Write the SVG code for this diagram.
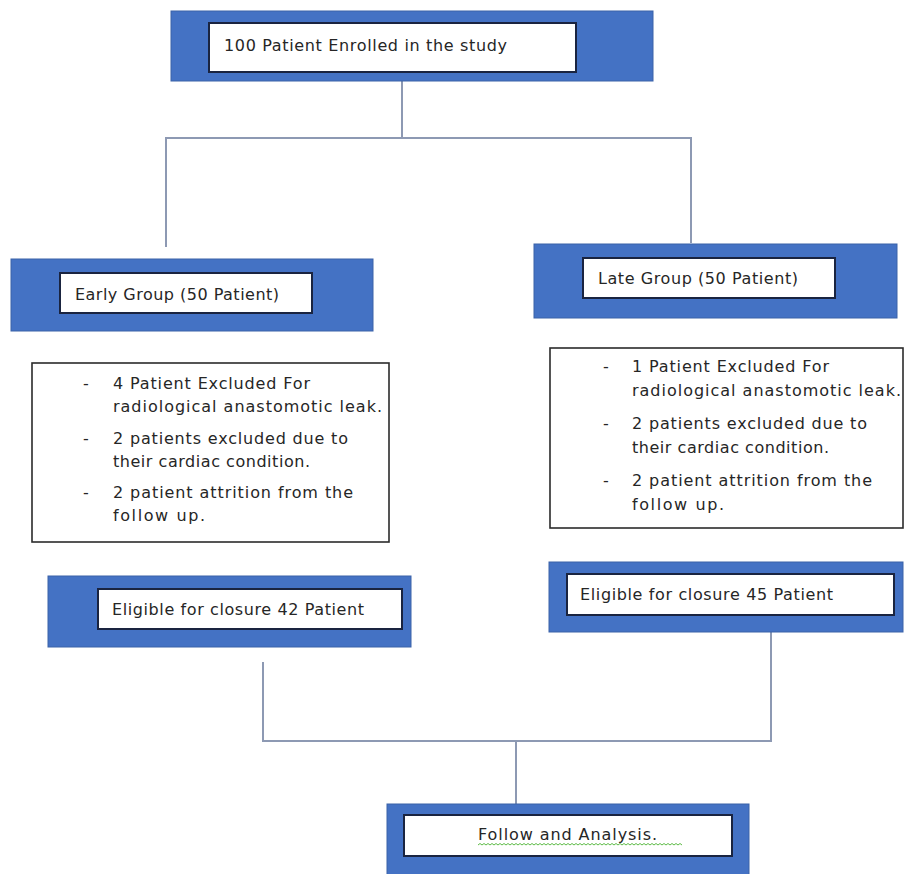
<svg xmlns="http://www.w3.org/2000/svg" width="905" height="874" viewBox="0 0 905 874">
<style>
.blue{fill:#4472C4;stroke:#3A62A8;stroke-width:1}
.inner{fill:#FFFFFF;stroke:#1A2440;stroke-width:2}
.excl{fill:#FFFFFF;stroke:#2B2B2B;stroke-width:1.6}
.t{font-family:"DejaVu Sans","Liberation Sans",sans-serif;font-size:16px;fill:#262626}
.conn{fill:none;stroke:#8D99B3;stroke-width:2}
</style>
<rect width="905" height="874" fill="#FFFFFF"/>
<g id="connectors">
<path class="conn" d="M402 81 V138 M166 138 H691 M166 137 V247 M691 137 V243"/>
<path class="conn" d="M263 662 V742 M771 632 V742 M263 741 H771 M516 741 V804"/>
</g>
<g id="enrolled">
<rect class="blue" x="171" y="11" width="482" height="70"/>
<rect class="inner" x="209" y="23" width="367" height="49"/>
<text class="t" x="224" y="51" textLength="283" lengthAdjust="spacing">100 Patient Enrolled in the study</text>
</g>
<g id="early">
<rect class="blue" x="11" y="259" width="362" height="72"/>
<rect class="inner" x="60" y="273" width="252" height="40"/>
<text class="t" x="75" y="300" textLength="204" lengthAdjust="spacing">Early Group (50 Patient)</text>
</g>
<g id="late">
<rect class="blue" x="534" y="244" width="363" height="74"/>
<rect class="inner" x="583" y="258" width="252" height="40"/>
<text class="t" x="598" y="284" textLength="200" lengthAdjust="spacing">Late Group (50 Patient)</text>
</g>
<g id="early-excluded">
<rect class="excl" x="32" y="363" width="357" height="179"/>
<text class="t" x="83" y="389">-</text>
<text class="t" x="113" y="389" textLength="197" lengthAdjust="spacing">4 Patient Excluded For</text>
<text class="t" x="113" y="412" textLength="269" lengthAdjust="spacing">radiological anastomotic leak.</text>
<text class="t" x="83" y="444">-</text>
<text class="t" x="113" y="444" textLength="235" lengthAdjust="spacing">2 patients excluded due to</text>
<text class="t" x="113" y="467" textLength="197" lengthAdjust="spacing">their cardiac condition.</text>
<text class="t" x="83" y="498">-</text>
<text class="t" x="113" y="498" textLength="240" lengthAdjust="spacing">2 patient attrition from the</text>
<text class="t" x="113" y="521" textLength="92" lengthAdjust="spacing">follow up.</text>
</g>
<g id="late-excluded">
<rect class="excl" x="550" y="348" width="353" height="180"/>
<text class="t" x="603" y="372">-</text>
<text class="t" x="632" y="372" textLength="197" lengthAdjust="spacing">1 Patient Excluded For</text>
<text class="t" x="632" y="396" textLength="269" lengthAdjust="spacing">radiological anastomotic leak.</text>
<text class="t" x="603" y="429">-</text>
<text class="t" x="632" y="429" textLength="235" lengthAdjust="spacing">2 patients excluded due to</text>
<text class="t" x="632" y="453" textLength="197" lengthAdjust="spacing">their cardiac condition.</text>
<text class="t" x="603" y="486">-</text>
<text class="t" x="632" y="486" textLength="240" lengthAdjust="spacing">2 patient attrition from the</text>
<text class="t" x="632" y="510" textLength="92" lengthAdjust="spacing">follow up.</text>
</g>
<g id="eligible-42">
<rect class="blue" x="48" y="576" width="363" height="71"/>
<rect class="inner" x="98" y="589" width="304" height="40"/>
<text class="t" x="112" y="615" textLength="252" lengthAdjust="spacing">Eligible for closure 42 Patient</text>
</g>
<g id="eligible-45">
<rect class="blue" x="549" y="562" width="354" height="70"/>
<rect class="inner" x="567" y="574" width="327" height="41"/>
<text class="t" x="580" y="600" textLength="253" lengthAdjust="spacing">Eligible for closure 45 Patient</text>
</g>
<g id="follow">
<rect class="blue" x="387" y="804" width="362" height="80"/>
<rect class="inner" x="404" y="815" width="328" height="41"/>
<text class="t" x="478" y="840" textLength="179" lengthAdjust="spacing">Follow and Analysis.</text>
<path d="M478 845 l2 -1.5 l2 1.5 l2 -1.5 l2 1.5 l2 -1.5 l2 1.5 l2 -1.5 l2 1.5 l2 -1.5 l2 1.5 l2 -1.5 l2 1.5 l2 -1.5 l2 1.5 l2 -1.5 l2 1.5 l2 -1.5 l2 1.5 l2 -1.5 l2 1.5 l2 -1.5 l2 1.5 l2 -1.5 l2 1.5 l2 -1.5 l2 1.5 l2 -1.5 l2 1.5 l2 -1.5 l2 1.5 l2 -1.5 l2 1.5 l2 -1.5 l2 1.5 l2 -1.5 l2 1.5 l2 -1.5 l2 1.5 l2 -1.5 l2 1.5 l2 -1.5 l2 1.5 l2 -1.5 l2 1.5 l2 -1.5 l2 1.5 l2 -1.5 l2 1.5 l2 -1.5 l2 1.5 l2 -1.5 l2 1.5 l2 -1.5 l2 1.5 l2 -1.5 l2 1.5 l2 -1.5 l2 1.5 l2 -1.5 l2 1.5 l2 -1.5 l2 1.5 l2 -1.5 l2 1.5 l2 -1.5 l2 1.5 l2 -1.5 l2 1.5 l2 -1.5 l2 1.5 l2 -1.5 l2 1.5 l2 -1.5 l2 1.5 l2 -1.5 l2 1.5 l2 -1.5 l2 1.5 l2 -1.5 l2 1.5 l2 -1.5 l2 1.5 l2 -1.5 l2 1.5 l2 -1.5 l2 1.5 l2 -1.5 l2 1.5 l2 -1.5 l2 1.5 l2 -1.5 l2 1.5 l2 -1.5 l2 1.5 l2 -1.5 l2 1.5 l2 -1.5 l2 1.5 l2 -1.5 l2 1.5 l2 -1.5 l2 1.5" fill="none" stroke="#5DBB46" stroke-width="1"/>
</g>
</svg>
